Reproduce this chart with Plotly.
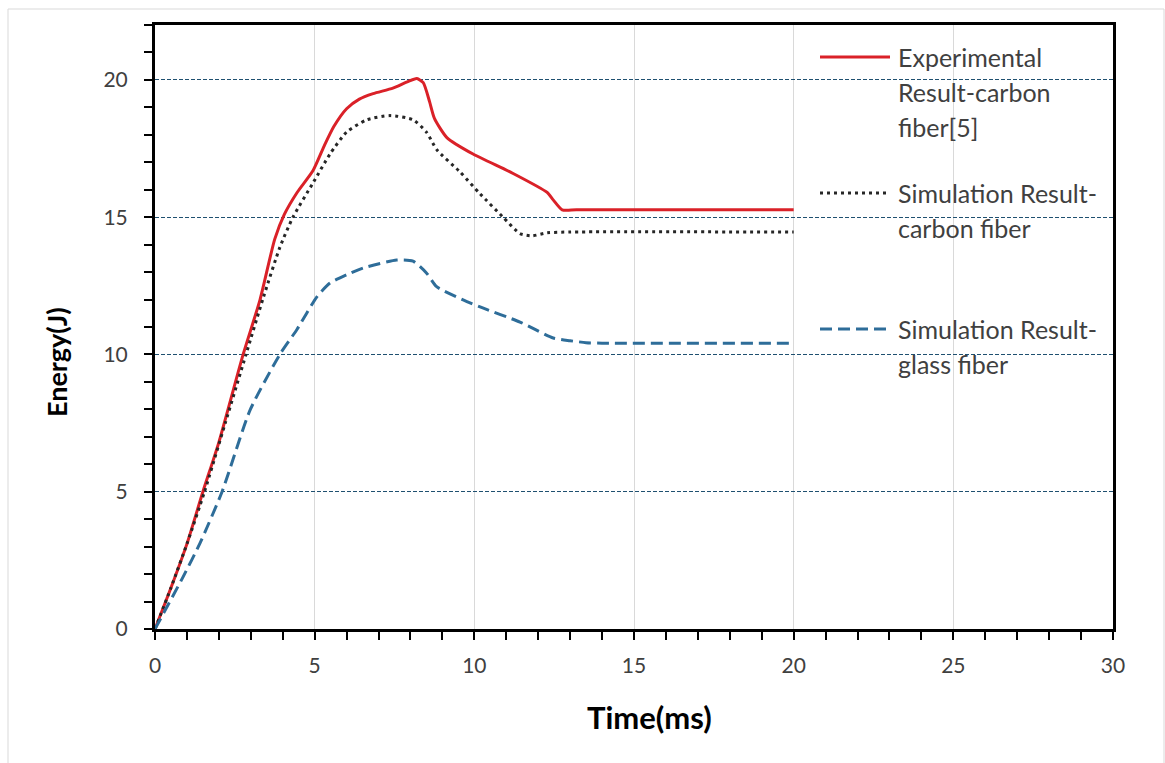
import plotly.graph_objects as go

# ---- data ----
exp_time = [0, 0.5, 1.0, 1.5, 2.0, 2.76, 3.29, 3.75, 4.05, 4.45, 4.95, 5.3, 5.6, 6.0, 6.4, 6.83,
            7.45, 7.9, 8.2, 8.4, 8.6, 8.75, 9.14, 9.96, 11.2, 12.28, 12.47, 12.75, 13.2, 20]
exp_energy = [0, 1.5, 3.1, 5.0, 6.8, 10.0, 12.0, 14.2, 15.1, 15.9, 16.7, 17.6, 18.3, 18.95, 19.3, 19.5,
              19.7, 19.93, 20.05, 19.9, 19.2, 18.6, 17.9, 17.3, 16.6, 15.9, 15.63, 15.27, 15.27, 15.27]

simc_time = [0, 0.5, 1.0, 1.55, 2.2, 2.85, 3.4, 3.91, 4.32, 4.95, 5.48, 6.0, 6.64, 7.36,
             8.08, 8.5, 8.83, 9.55, 10.18, 10.9, 11.43, 11.8, 12.28, 13, 20]
simc_energy = [0, 1.5, 3.1, 5.0, 7.5, 10.0, 12.1, 13.9, 15.0, 16.25, 17.3, 18.1, 18.55, 18.7,
               18.55, 18.1, 17.45, 16.65, 15.85, 15.0, 14.4, 14.32, 14.43, 14.46, 14.46]

simg_time = [0, 0.88, 1.41, 2.1, 2.98, 3.91, 4.44, 5.07, 5.48, 6.0, 6.52, 7.57, 8.08,
             8.5, 8.82, 9.65, 10.18, 11.43, 12.47, 13.0, 13.5, 14.0, 20]
simg_energy = [0, 1.9, 3.13, 5.0, 7.98, 10.0, 10.9, 12.1, 12.6, 12.9, 13.15, 13.44, 13.4,
               12.97, 12.47, 11.99, 11.73, 11.18, 10.6, 10.5, 10.43, 10.41, 10.41]

legend_lines = [
    ["Experimental", "Result-carbon", "fiber[5]"],
    ["Simulation Result-", "carbon fiber"],
    ["Simulation Result-", "glass fiber"],
]

RED = "#DA2128"
BLACK = "#262626"
BLUE = "#2E6D99"
TXT = "#404040"
FONT = "Lato"

fig = go.Figure()
fig.add_trace(go.Scatter(x=exp_time, y=exp_energy, mode="lines",
                         line=dict(color=RED, width=3, shape="spline", smoothing=0.6),
                         showlegend=False))
fig.add_trace(go.Scatter(x=simc_time, y=simc_energy, mode="lines",
                         line=dict(color=BLACK, width=3, dash="3px,4px", shape="spline", smoothing=0.6),
                         showlegend=False))
fig.add_trace(go.Scatter(x=simg_time, y=simg_energy, mode="lines",
                         line=dict(color=BLUE, width=3, dash="12px,6px", shape="spline", smoothing=0.6),
                         showlegend=False))

# plot area in pixels: x 155..1113, y 25..629
L, R, T, B = 155, 1113, 25, 629
W, H = R - L, B - T
def px(x):
    return (x - L) / W
def py(y):
    return (B - y) / H

shapes = []
annotations = []
# legend samples and texts
styles = [dict(color=RED, width=3), dict(color=BLACK, width=3, dash="3px,4px"),
          dict(color=BLUE, width=3, dash="12px,6px")]
first_y = [57, 193, 329]
for lines, st, y0 in zip(legend_lines, styles, first_y):
    shapes.append(dict(type="line", xref="paper", yref="paper",
                       x0=px(820), x1=px(890), y0=py(y0), y1=py(y0), line=st))
    for i, t in enumerate(lines):
        annotations.append(dict(text=t, xref="paper", yref="paper", x=px(896), y=py(y0 + 35 * i),
                                xanchor="left", yanchor="middle", showarrow=False,
                                font=dict(family=FONT, size=25, color=TXT)))

# outer light border
shapes.append(dict(type="rect", xref="paper", yref="paper", x0=px(8), x1=px(1164), y0=py(775), y1=py(9),
                   line=dict(color="#D9D9D9", width=1), layer="below"))

# axis titles
annotations.append(dict(text="<b>Time(ms)</b>", xref="paper", yref="paper", x=px(649), y=py(717),
                        xanchor="center", yanchor="middle", showarrow=False,
                        font=dict(family=FONT, size=31, color="#000000")))
annotations.append(dict(text="<b>Energy(J)</b>", xref="paper", yref="paper", x=px(56), y=py(362),
                        xanchor="center", yanchor="middle", showarrow=False, textangle=-90,
                        font=dict(family=FONT, size=27, color="#000000")))

fig.update_layout(
    width=1165, height=763,
    margin=dict(l=L, r=1165 - R, t=T, b=763 - B),
    paper_bgcolor="white", plot_bgcolor="white",
    shapes=shapes, annotations=annotations,
    showlegend=False,
    font=dict(family=FONT, color=TXT),
)
fig.update_xaxes(range=[0, 30], dtick=5, tick0=0, showgrid=True, gridcolor="#D9D9D9", gridwidth=1,
                 zeroline=False, showline=True, linecolor="black", linewidth=3, mirror=True,
                 ticks="outside", ticklen=8, tickwidth=2, tickcolor="black",
                 tickfont=dict(family=FONT, size=21, color=TXT), ticklabelstandoff=8,
                 minor=dict(dtick=1, ticks="outside", ticklen=8, tickwidth=2, tickcolor="black", showgrid=False))
fig.update_yaxes(range=[0, 22], tickvals=[0, 5, 10, 15, 20], showgrid=True, gridcolor="#1F5070",
                 gridwidth=1, griddash="4px,2px",
                 zeroline=False, showline=True, linecolor="black", linewidth=3, mirror=True,
                 ticks="outside", ticklen=8, tickwidth=2, tickcolor="black",
                 tickfont=dict(family=FONT, size=21, color=TXT), ticklabelstandoff=12,
                 minor=dict(dtick=1, tick0=0, ticks="outside", ticklen=8, tickwidth=2, tickcolor="black", showgrid=False))

fig.write_html("out.html")
